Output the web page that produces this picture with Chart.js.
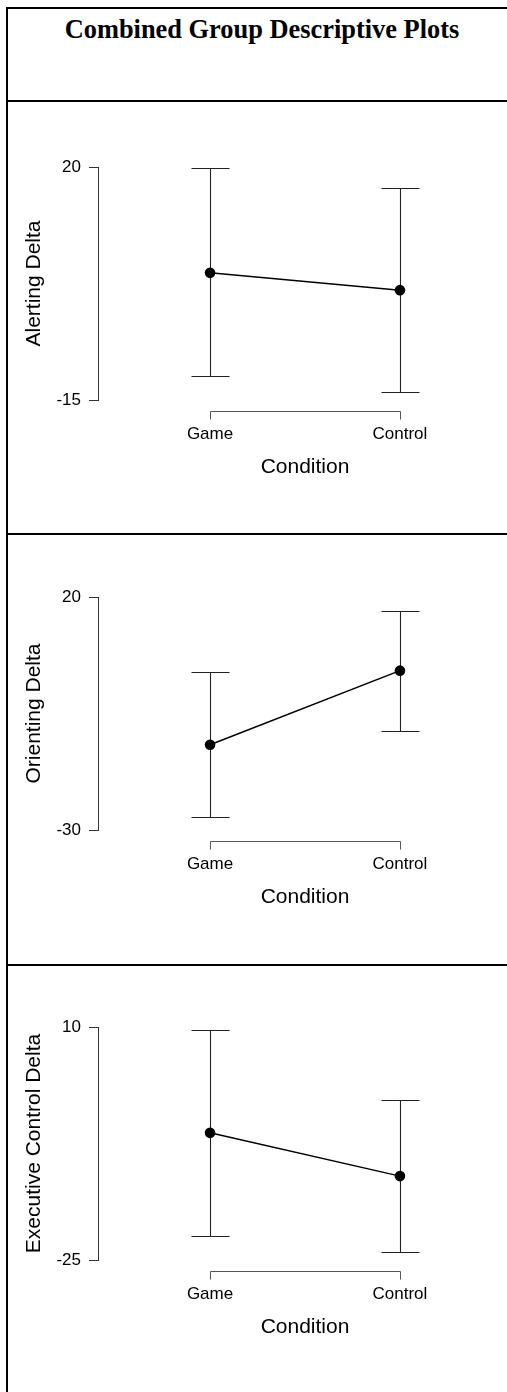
<!DOCTYPE html>
<html>
<head>
<meta charset="utf-8">
<title>Combined Group Descriptive Plots</title>
<script src="https://cdn.jsdelivr.net/npm/chart.js@4.4.1/dist/chart.umd.min.js"></script>
<style>
  html, body { margin: 0; padding: 0; width: 507px; height: 1392px; overflow: hidden; background: #fff; }
  canvas { position: absolute; left: 0; }
  .linha { position: absolute; background: #000; z-index: 2; }
  #titulo {
    position: absolute; left: 6px; width: 512px; top: 14px;
    text-align: center; line-height: 26px;
    font: bold 26.4px "Liberation Serif", "Times New Roman", serif;
  }
</style>
</head>
<body>
<div id="titulo">Combined Group Descriptive Plots</div>

<canvas id="painelAlerting" width="520" height="420" style="top:105px"></canvas>
<canvas id="painelOrienting" width="520" height="420" style="top:535px"></canvas>
<canvas id="painelExecutive" width="520" height="420" style="top:965px"></canvas>

<!-- table borders -->
<div class="linha" style="left:6px; top:7px; width:2px; height:1385px"></div>
<div class="linha" style="left:6px; top:7px; width:501px; height:2px"></div>
<div class="linha" style="left:6px; top:100px; width:501px; height:2px"></div>
<div class="linha" style="left:6px; top:533px; width:501px; height:2px"></div>
<div class="linha" style="left:6px; top:964px; width:501px; height:2px"></div>

<script>
// Categories on the x axis
const categories = ["Game", "Control"];

// Alerting Delta: means and interval ends
const alertingMean = [4.1, 1.5];
const alertingLower = [-11.4, -13.8];
const alertingUpper = [19.8, 16.8];
const alertingTicks = [-15, 20];

// Orienting Delta
const orientingMean = [-11.7, 4.2];
const orientingLower = [-27.3, -8.8];
const orientingUpper = [3.9, 17.1];
const orientingTicks = [-30, 20];

// Executive Control Delta
const executiveMean = [-5.9, -12.4];
const executiveLower = [-21.4, -23.8];
const executiveUpper = [9.6, -0.9];
const executiveTicks = [-25, 10];

document.addEventListener("DOMContentLoaded", function () {
  Chart.defaults.font.family = "'Liberation Sans', Arial, sans-serif";
  Chart.defaults.color = "#000";

  // Plugin that draws the error bars with the chart's scales
  const errorBarsPlugin = {
    id: "errorBars",
    beforeDatasetsDraw(chart, args, opts) {
      const { ctx } = chart;
      const x = chart.scales.x;
      const y = chart.scales.y;
      ctx.save();
      ctx.strokeStyle = "#222";
      ctx.lineWidth = 1.1;
      opts.lower.forEach((low, i) => {
        const px = Math.round(x.getPixelForValue(i + 1)) + 0.5;
        const top = Math.round(y.getPixelForValue(opts.upper[i])) + 0.5;
        const bottom = Math.round(y.getPixelForValue(low)) + 0.5;
        ctx.beginPath();
        ctx.moveTo(px, top);
        ctx.lineTo(px, bottom);
        ctx.moveTo(px - 19, top);
        ctx.lineTo(px + 19, top);
        ctx.moveTo(px - 19, bottom);
        ctx.lineTo(px + 19, bottom);
        ctx.stroke();
      });
      ctx.restore();
    }
  };

  // Plugin for the bracket-style x axis (from first to last category)
  const bracketPlugin = {
    id: "bracketAxis",
    afterDraw(chart) {
      const { ctx, chartArea } = chart;
      const x = chart.scales.x;
      const y0 = Math.round(chartArea.bottom + 11) + 0.5;
      const x1 = Math.round(x.getPixelForValue(1)) + 0.5;
      const x2 = Math.round(x.getPixelForValue(categories.length)) + 0.5;
      ctx.save();
      ctx.strokeStyle = "#555";
      ctx.lineWidth = 1;
      ctx.beginPath();
      ctx.moveTo(x1, y0 + 8);
      ctx.lineTo(x1, y0);
      ctx.lineTo(x2, y0);
      ctx.lineTo(x2, y0 + 8);
      ctx.stroke();
      ctx.restore();
    }
  };

  // Function to build one panel
  function criarPainel(canvasId, label, mean, lower, upper, ticks) {
    const ctx = document.getElementById(canvasId).getContext("2d");
    return new Chart(ctx, {
      type: "line",
      data: {
        datasets: [{
          data: categories.map((c, i) => ({ x: i + 1, y: mean[i] })),
          borderColor: "#000",
          borderWidth: 1.5,
          pointRadius: 5.3,
          pointBorderWidth: 0,
          pointBackgroundColor: "#000",
          tension: 0
        }]
      },
      options: {
        responsive: false,
        animation: false,
        devicePixelRatio: 1,
        layout: { padding: { left: 0, right: 8, top: 62, bottom: 45 } },
        plugins: {
          legend: { display: false },
          tooltip: { enabled: false },
          errorBars: { lower: lower, upper: upper }
        },
        scales: {
          x: {
            type: "linear",
            min: 0.41,
            max: 2.59,
            afterBuildTicks: s => { s.ticks = categories.map((c, i) => ({ value: i + 1 })); },
            afterFit: s => { s.height = 80; },
            grid: { display: false, drawTicks: false },
            border: { display: false },
            ticks: {
              padding: 24,
              autoSkip: false,
              maxRotation: 0,
              color: "#000",
              font: { size: 17 },
              callback: v => categories[v - 1]
            },
            title: {
              display: true,
              text: "Condition",
              color: "#000",
              font: { size: 21 },
              padding: { top: 0, bottom: 0 }
            }
          },
          y: {
            min: ticks[0],
            max: ticks[1],
            afterBuildTicks: s => { s.ticks = ticks.map(v => ({ value: v })); },
            afterFit: s => { s.width = 98; },
            grid: { drawOnChartArea: false, drawTicks: true, tickLength: 9, color: "#333" },
            border: { display: true, color: "#333", width: 1 },
            ticks: { padding: 8, color: "#000", font: { size: 17 } },
            title: {
              display: true,
              text: label,
              color: "#000",
              font: { size: 21 },
              padding: { top: 22, bottom: 0 }
            }
          }
        }
      },
      plugins: [errorBarsPlugin, bracketPlugin]
    });
  }

  criarPainel("painelAlerting", "Alerting Delta", alertingMean, alertingLower, alertingUpper, alertingTicks);
  criarPainel("painelOrienting", "Orienting Delta", orientingMean, orientingLower, orientingUpper, orientingTicks);
  criarPainel("painelExecutive", "Executive Control Delta", executiveMean, executiveLower, executiveUpper, executiveTicks);
});
</script>
</body>
</html>
